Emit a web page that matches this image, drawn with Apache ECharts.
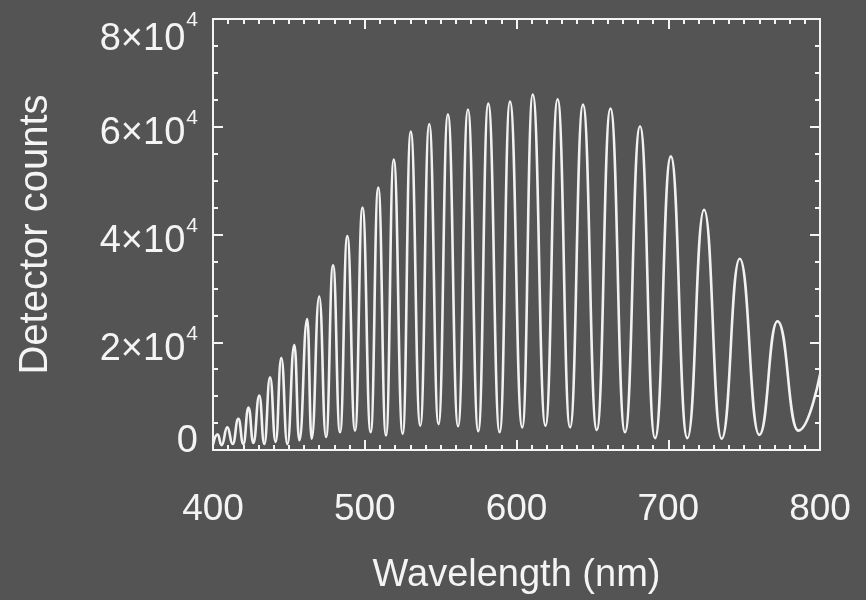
<!DOCTYPE html>
<html><head><meta charset="utf-8">
<script src="https://cdn.jsdelivr.net/npm/echarts@6/dist/echarts.min.js"></script>
<style>html,body{margin:0;padding:0;background:#545454;}#c{width:866px;height:600px;}</style>
</head><body><div id="c"></div>
<script>
// Fringe extrema (alternating peaks and troughs)
const wavelengths = [400.0, 403.0, 405.7, 409.4, 413.0, 416.7, 420.0, 423.4, 426.6, 430.5, 433.8,
  437.6, 441.3, 445.0, 449.0, 453.6, 456.9, 462.1, 465.0, 470.0, 474.5, 479.1, 483.7, 488.5, 493.6,
  498.5, 503.9, 508.9, 514.0, 519.1, 525.0, 530.3, 536.6, 542.5, 548.6, 554.8, 561.5, 568.0, 574.8,
  581.4, 588.9, 595.7, 603.8, 610.7, 619.1, 627.1, 635.3, 643.8, 652.9, 661.9, 671.5, 681.4, 691.3,
  701.7, 712.6, 723.6, 735.2, 747.1, 760.0, 772.0, 785.7, 800.0];
const counts = [1000, 2900, 900, 4200, 1100, 5800, 1100, 7900, 1300, 10100, 1100,
  13500, 1500, 17100, 1100, 19500, 1800, 24300, 2100, 28500, 2400, 34300, 3300, 39700, 3600,
  45000, 3300, 48700, 2700, 53900, 3000, 59100, 4500, 60500, 4800, 62300, 4400, 63200, 3500,
  64300, 3300, 64700, 4200, 66000, 4500, 65100, 4200, 64100, 3700, 63400, 3300, 60100, 2200,
  54500, 2200, 44600, 2100, 35500, 2800, 23900, 3600, 14000];
const xTicks = [400, 500, 600, 700, 800];
const yTicks = [0, 20000, 40000, 60000, 80000];
const xTitle = 'Wavelength (nm)';
const yTitle = 'Detector counts';

const fg = '#f4f4f4';
const font = 'Liberation Sans, Arial, Helvetica, sans-serif';
const data = wavelengths.map((w, i) => [w, counts[i]]);

function yLabel(v) {
  if (v === 0) return '{z|0}';
  const m = v / 10000;
  if (v === yTicks[yTicks.length - 1]) return '{m|' + m + '×10}{t|4}';
  return '{n|' + m + '×10}{s|4}';
}

const axisCommon = {
  axisLine: { show: true, onZero: false, lineStyle: { color: fg, width: 2 } },
  axisTick: { show: true, inside: true, length: 10, lineStyle: { color: fg, width: 2 } },
  minorTick: { show: true, length: 5, lineStyle: { color: fg, width: 2 } },
  splitLine: { show: false },
  minorSplitLine: { show: false }
};

const chart = echarts.init(document.getElementById('c'), null, { renderer: 'canvas' });
chart.setOption({
  backgroundColor: '#545454',
  animation: false,
  grid: { left: 213, right: 46, top: 14, bottom: 147 },
  xAxis: [
    Object.assign({}, axisCommon, {
      type: 'value', min: xTicks[0], max: xTicks[xTicks.length - 1], interval: 100, position: 'bottom',
      minorTick: Object.assign({}, axisCommon.minorTick, { splitNumber: 10 }),
      axisLabel: { color: fg, fontSize: 37, fontFamily: font, margin: 41 },
      name: xTitle, nameLocation: 'middle', nameGap: 107,
      nameTextStyle: { color: fg, fontSize: 38, fontFamily: font }
    }),
    Object.assign({}, axisCommon, {
      type: 'value', min: xTicks[0], max: xTicks[xTicks.length - 1], interval: 100, position: 'top',
      minorTick: Object.assign({}, axisCommon.minorTick, { splitNumber: 10 }),
      axisLabel: { show: false }
    })
  ],
  yAxis: [
    Object.assign({}, axisCommon, {
      type: 'value', min: yTicks[0], max: yTicks[yTicks.length - 1], interval: 20000, position: 'left',
      minorTick: Object.assign({}, axisCommon.minorTick, { splitNumber: 4 }),
      axisLabel: {
        color: fg, fontFamily: font, margin: 15, formatter: yLabel,
        rich: {
          n: { fontSize: 38, color: fg, fontFamily: font, verticalAlign: 'top', lineHeight: 38, padding: [7, 0, 0, 0] },
          s: { fontSize: 21, color: fg, fontFamily: font, verticalAlign: 'top', lineHeight: 21, padding: [0, 0, 0, 1] },
          m: { fontSize: 38, color: fg, fontFamily: font, verticalAlign: 'top', lineHeight: 38, padding: [21, 0, 0, 0] },
          t: { fontSize: 21, color: fg, fontFamily: font, verticalAlign: 'top', lineHeight: 21, padding: [10, 0, 0, 1] },
          z: { fontSize: 38, color: fg, fontFamily: font, lineHeight: 38, padding: [0, 0, 16, 0] }
        }
      },
      name: yTitle, nameLocation: 'middle', nameGap: 157, nameRotate: 90,
      nameTextStyle: { color: fg, fontSize: 40, fontFamily: font }
    }),
    Object.assign({}, axisCommon, {
      type: 'value', min: yTicks[0], max: yTicks[yTicks.length - 1], interval: 20000, position: 'right',
      minorTick: Object.assign({}, axisCommon.minorTick, { splitNumber: 4 }),
      axisLabel: { show: false }
    })
  ],
  series: [{
    type: 'line', xAxisIndex: 0, yAxisIndex: 0, data: data,
    smooth: 0.5, smoothMonotone: 'x', showSymbol: false, symbol: 'none',
    lineStyle: { color: '#f2f2f2', width: 2.6 }
  }]
});
</script></body></html>
